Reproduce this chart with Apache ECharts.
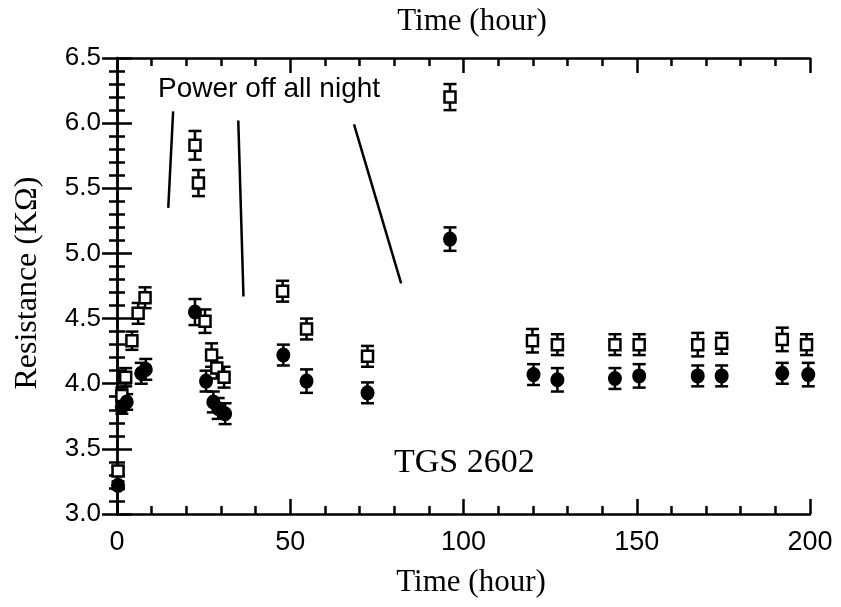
<!DOCTYPE html>
<html>
<head>
<meta charset="utf-8">
<script src="https://cdn.jsdelivr.net/npm/echarts@6/dist/echarts.min.js"></script>
<style>
html,body{margin:0;padding:0;background:#fff;}
#c{width:841px;height:607px;}
</style>
</head>
<body>
<div id="c"></div>
<script>
// Open squares series
const sqHours = [0.3, 1.4, 2.5, 4.3, 6.1, 8.1, 22.5, 23.5, 25.4, 27.3, 28.8, 30.9, 47.8, 54.7, 72.3, 96.1, 119.9, 127.1, 143.7, 150.7, 167.6, 174.5, 192.0, 199.0];
const sqRes   = [3.33, 3.91, 4.05, 4.33, 4.54, 4.66, 5.83, 5.54, 4.48, 4.22, 4.12, 4.05, 4.71, 4.42, 4.21, 6.20, 4.33, 4.30, 4.30, 4.30, 4.30, 4.31, 4.34, 4.30];
const sqErr   = [0.03, 0.06, 0.07, 0.07, 0.08, 0.08, 0.11, 0.10, 0.09, 0.09, 0.08, 0.08, 0.08, 0.08, 0.08, 0.10, 0.09, 0.08, 0.08, 0.08, 0.09, 0.08, 0.09, 0.08];
// Filled circles series
const ciHours = [0.3, 1.4, 2.8, 7.0, 8.3, 22.5, 25.7, 27.8, 29.2, 31.2, 48.0, 54.7, 72.3, 96.1, 120.2, 127.1, 143.7, 150.7, 167.6, 174.5, 192.0, 199.5];
const ciRes   = [3.22, 3.82, 3.86, 4.08, 4.11, 4.55, 4.02, 3.86, 3.81, 3.77, 4.22, 4.02, 3.93, 5.11, 4.07, 4.03, 4.04, 4.06, 4.06, 4.06, 4.08, 4.07];
const ciErr   = [0.03, 0.05, 0.06, 0.08, 0.08, 0.10, 0.08, 0.08, 0.08, 0.08, 0.08, 0.09, 0.08, 0.09, 0.08, 0.09, 0.08, 0.09, 0.08, 0.08, 0.08, 0.09];
// Annotation pointer segments (hour, resistance)
const noteSegments = [
  [[16.2, 6.09], [14.8, 5.35]],
  [[35.0, 6.02], [36.5, 4.67]],
  [[68.4, 5.99], [82.0, 4.77]]
];
const xTicks = {min: 0, max: 200, interval: 50};
const yTicks = {min: 3.0, max: 6.5, interval: 0.5};

const sqData = sqHours.map((t, i) => [t, sqRes[i], sqErr[i]]);
const ciData = ciHours.map((t, i) => [t, ciRes[i], ciErr[i]]);

function errRender(params, api) {
  const x = api.value(0), y = api.value(1), e = api.value(2);
  const hi = api.coord([x, y + e]), lo = api.coord([x, y - e]);
  const hw = 6.5;
  const style = {stroke: '#000', lineWidth: 2.5};
  return {type: 'group', children: [
    {type: 'line', shape: {x1: hi[0], y1: hi[1], x2: lo[0], y2: lo[1]}, style: style},
    {type: 'line', shape: {x1: hi[0] - hw, y1: hi[1], x2: hi[0] + hw, y2: hi[1]}, style: style},
    {type: 'line', shape: {x1: lo[0] - hw, y1: lo[1], x2: lo[0] + hw, y2: lo[1]}, style: style}
  ]};
}

const sans = '"Liberation Sans", Arial, Helvetica, sans-serif';
const serif = '"Liberation Serif", "Times New Roman", serif';

const axisCommon = {
  type: 'value',
  axisLine: {show: true, lineStyle: {color: '#000', width: 2.5}},
  axisTick: {show: true, inside: true, length: 15, lineStyle: {color: '#000', width: 2.5}},
  minorTick: {show: true, splitNumber: 5, length: 8, lineStyle: {color: '#000', width: 2.5}},
  splitLine: {show: false},
  minorSplitLine: {show: false}
};

const chart = echarts.init(document.getElementById('c'), null, {renderer: 'canvas'});
chart.setOption({
  backgroundColor: '#fff',
  animation: false,
  grid: {left: 117, right: 31, top: 58, bottom: 93, containLabel: false},
  xAxis: [
    Object.assign({}, axisCommon, {
      position: 'bottom', min: xTicks.min, max: xTicks.max, interval: xTicks.interval,
      axisLabel: {color: '#000', fontSize: 27, fontFamily: sans, margin: 15}
    }),
    Object.assign({}, axisCommon, {
      position: 'top', min: xTicks.min, max: xTicks.max, interval: xTicks.interval,
      axisLabel: {show: false}
    })
  ],
  yAxis: [
    Object.assign({}, axisCommon, {
      position: 'left', min: yTicks.min, max: yTicks.max, interval: yTicks.interval,
      axisLabel: {color: '#000', fontSize: 26, fontFamily: sans, margin: 16,
        formatter: v => v.toFixed(1)}
    }),
    Object.assign({}, axisCommon, {
      position: 'right', min: yTicks.min, max: yTicks.max, interval: yTicks.interval,
      axisLabel: {show: false}
    })
  ],
  series: [
    {type: 'custom', renderItem: errRender, data: sqData, z: 2, clip: false},
    {type: 'custom', renderItem: errRender, data: ciData, z: 2, clip: false},
    {type: 'scatter', data: sqData, symbol: 'rect', symbolSize: 11, z: 5,
      itemStyle: {color: '#fff', borderColor: '#000', borderWidth: 2.5, opacity: 1}},
    {type: 'scatter', data: ciData, symbol: 'circle', symbolSize: [14, 15], z: 6,
      itemStyle: {color: '#000', opacity: 1}},
    {type: 'scatter', data: [], silent: true,
      markLine: {
        symbol: ['none', 'none'], silent: true, animation: false,
        label: {show: false},
        lineStyle: {color: '#000', width: 2.5, type: 'solid'},
        data: noteSegments.map(s => [{coord: s[0]}, {coord: s[1]}])
      }}
  ],
  graphic: [
    {type: 'text', x: 472, y: 22, style: {text: 'Time (hour)', font: '31px ' + serif, fill: '#000', align: 'center', verticalAlign: 'middle'}},
    {type: 'text', x: 471, y: 583, style: {text: 'Time (hour)', font: '31px ' + serif, fill: '#000', align: 'center', verticalAlign: 'middle'}},
    {type: 'text', x: 28, y: 283, rotation: Math.PI / 2, style: {text: 'Resistance (KΩ)', font: '32px ' + serif, fill: '#000', align: 'center', verticalAlign: 'middle'}},
    {type: 'text', x: 158, y: 89, style: {text: 'Power off all night', font: '28px ' + sans, fill: '#000', align: 'left', verticalAlign: 'middle'}},
    {type: 'text', x: 394, y: 463, style: {text: 'TGS 2602', font: '34px ' + serif, fill: '#000', align: 'left', verticalAlign: 'middle'}}
  ]
});
</script>
</body>
</html>
